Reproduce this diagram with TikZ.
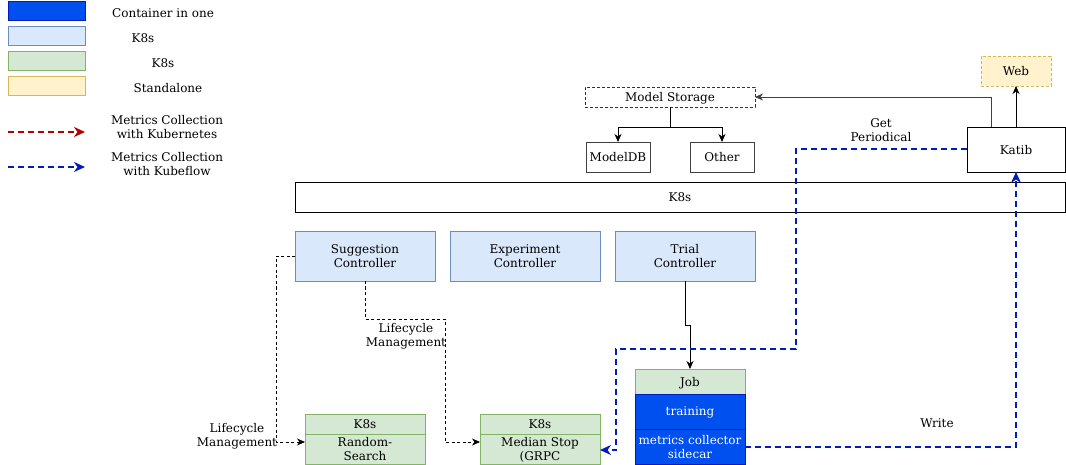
\documentclass[tikz,border=0pt]{standalone}
\usepackage{fontspec}
\setmainfont{DejaVu Serif}
\usetikzlibrary{arrows.meta,calc}
\definecolor{cblue}{HTML}{0050EF}
\definecolor{cbluestroke}{HTML}{001DBC}
\definecolor{lblue}{HTML}{DAE8FC}
\definecolor{lbluestroke}{HTML}{6C8EBF}
\definecolor{lgreen}{HTML}{D5E8D4}
\definecolor{lgreenstroke}{HTML}{82B366}
\definecolor{lyellow}{HTML}{FFF2CC}
\definecolor{lyellowstroke}{HTML}{D6B656}
\definecolor{kred}{HTML}{B20000}
\begin{document}
\begin{tikzpicture}[x=1pt,y=-1pt,
  every node/.style={font=\fontsize{12}{14}\selectfont, inner sep=0pt, outer sep=0pt, align=center, text depth=0pt},
  plain/.style={draw=black, fill=white, line width=0.8pt},
  graybox/.style={draw=black!75, fill=white, line width=0.8pt},
  dashbox/.style={draw=black!80, dash pattern=on 3pt off 2pt, line width=0.8pt},
  containerbox/.style={draw=cbluestroke, fill=cblue, text=white, line width=0.8pt},
  kblue/.style={draw=lbluestroke, fill=lblue, line width=0.8pt},
  kgreen/.style={draw=lgreenstroke, fill=lgreen, line width=0.8pt},
  kyellow/.style={draw=lyellowstroke, fill=lyellow, line width=0.8pt},
  kyellowdash/.style={draw=lyellowstroke, fill=lyellow, dash pattern=on 3pt off 2pt, line width=0.8pt},
  tip/.style={-{Stealth[length=8pt,width=7pt,inset=2.5pt]}},
  bigtip/.style={-{Stealth[length=11pt,width=10pt,inset=3.5pt]}},
  solidarrow/.style={tip, draw=black, line width=0.8pt},
  blackdash/.style={tip, draw=black, line width=0.8pt, dash pattern=on 3pt off 2.5pt},
  bluedash/.style={bigtip, draw=cbluestroke, line width=2pt, dash pattern=on 6pt off 4pt},
  reddash/.style={bigtip, draw=kred, line width=2pt, dash pattern=on 6pt off 4pt},
]
\useasboundingbox (0,0) rectangle (1066,465);

% ---------- legend ----------
\node[containerbox, minimum width=77pt, minimum height=19pt] (lg1) at (46.5,10.5) {};
\node[kblue, minimum width=77pt, minimum height=19pt] (lg2) at (46.5,35.5) {};
\node[kgreen, minimum width=77pt, minimum height=19pt] (lg3) at (46.5,60.5) {};
\node[kyellow, minimum width=77pt, minimum height=19pt] (lg4) at (46.5,85.5) {};
\node (lt1) at (163,13) {Container in one};
\node (lt2) at (143,38) {K8s};
\node (lt3) at (163,63) {K8s};
\node (lt4) at (168,88) {Standalone};
\coordinate (ra) at (8,132);
\coordinate (rb) at (85,132);
\draw[reddash] (ra) -- (rb);
\node (lt5) at (167,127) {Metrics Collection\\with Kubernetes};
\coordinate (ba) at (8,167);
\coordinate (bb) at (85,167);
\draw[bluedash] (ba) -- (bb);
\node (lt6) at (167,164) {Metrics Collection\\with Kubeflow};

% ---------- storage ----------
\node[dashbox, minimum width=170pt, minimum height=20pt] (ms) at (670,97) {Model Storage};
\node[graybox, minimum width=64pt, minimum height=30pt] (mdb) at (618,157) {ModelDB};
\node[graybox, minimum width=64pt, minimum height=30pt] (oth) at (722,157) {Other};
\draw[solidarrow] (ms.south) -- ++(0,20) -| (mdb.north);
\draw[solidarrow] (ms.south) -- ++(0,20) -| (oth.north);

% ---------- katib / web ----------
\node[kyellowdash, minimum width=70pt, minimum height=30pt] (web) at (1016,71) {Web};
\node[plain, minimum width=98pt, minimum height=45pt] (katib) at (1016,149.5) {Katib};
\draw[solidarrow] (katib.north) -- (web.south);
\draw[solidarrow, draw=black!75] ([xshift=-25pt]katib.north) |- (ms.east);
\node (getp) at (881,130) {Get\\Periodical};

% ---------- K8s bar ----------
\node[plain, minimum width=770pt, minimum height=30pt] (k8s) at (680,197) {K8s};

% ---------- controllers ----------
\node[kblue, minimum width=140pt, minimum height=50pt] (sug) at (365,256) {Suggestion\\Controller};
\node[kblue, minimum width=150pt, minimum height=50pt] (exp) at (525,256) {Experiment\\Controller};
\node[kblue, minimum width=140pt, minimum height=50pt] (trial) at (685,256) {Trial\\Controller};

% ---------- job ----------
\node[kgreen, minimum width=110pt, minimum height=25pt] (job) at (690,381.5) {Job};
\node[containerbox, minimum width=110pt, minimum height=35pt] (train) at (690,411.5) {training};
\node[containerbox, minimum width=110pt, minimum height=35pt] (mc) at (690,446.5) {metrics collector\\sidecar};

% ---------- suggestion services ----------
\node[kgreen, minimum width=120pt, minimum height=20pt] (rshead) at (365,424) {K8s};
\node[kgreen, minimum width=120pt, minimum height=30pt] (rsbody) at (365,449) {Random-\\Search};
\node[kgreen, minimum width=120pt, minimum height=20pt] (mshead) at (540,424) {K8s};
\node[kgreen, minimum width=120pt, minimum height=30pt] (msbody) at (540,449) {Median Stop\\(GRPC};

% ---------- connectors ----------
\draw[solidarrow] (trial.south) -- ++(0,44) -| (job.north);
\draw[blackdash] (sug.west) -- ++(-19,0) |- ($(rsbody.west)+(0,-7)$);
\node (lc1) at (237,435) {Lifecycle\\Management};
\draw[blackdash] (sug.south) -- ++(0,38) -- ++(80,0) |- ($(msbody.west)+(0,-7)$);
\node (lc2) at (406,335) {Lifecycle\\Management};

\draw[bluedash] (katib.west) -- ++(-171,0) -- ++(0,199) -- ++(-180,0) |- ($(msbody.east)+(0,1)$);
\draw[bluedash] (mc.east) -| (katib.south);
\node (write) at (937,423) {Write};
\end{tikzpicture}
\end{document}
